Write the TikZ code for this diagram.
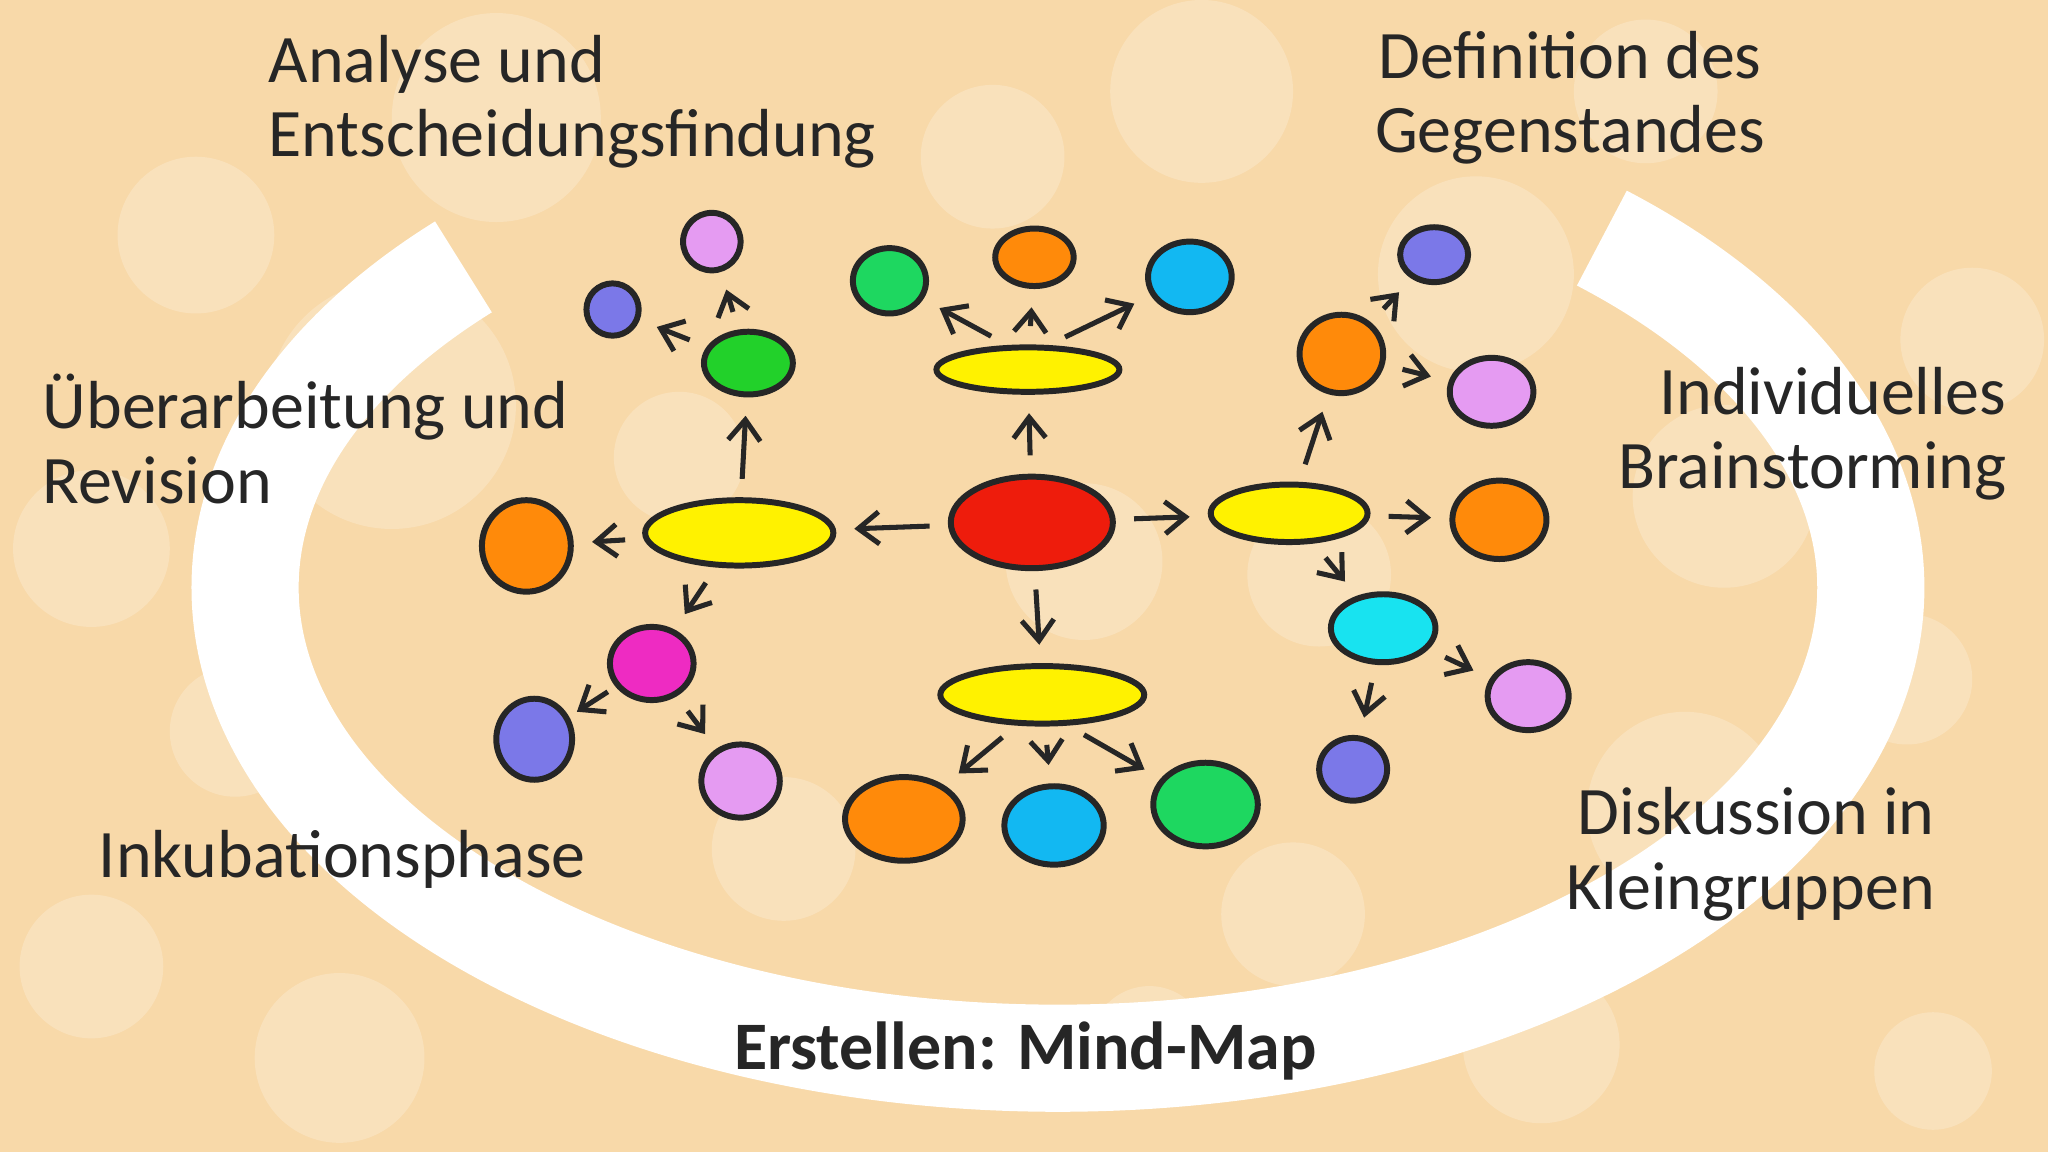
\documentclass[tikz,border=0pt]{standalone}
\usepackage{fontspec}
\setmainfont{Carlito}
\usetikzlibrary{arrows.meta,shapes.geometric}
\definecolor{bg}{HTML}{F8D9A9}
\definecolor{cyel}{HTML}{FFF200}
\definecolor{cred}{HTML}{EE1C0C}
\definecolor{cgreen}{HTML}{1ED760}
\definecolor{clime}{HTML}{22D12A}
\definecolor{corange}{HTML}{FF8A0A}
\definecolor{csky}{HTML}{12B8F2}
\definecolor{clilac}{HTML}{E59BF2}
\definecolor{cviolet}{HTML}{7B78E8}
\definecolor{cmag}{HTML}{EE2BC2}
\definecolor{ccyan}{HTML}{18E3F0}
\begin{document}
\begin{tikzpicture}[x=0.01cm,y=0.01cm,
  arr/.style={-{Straight Barb[length=4.5pt,width=7pt]},line width=1.1pt,black!85,shorten <=4pt,shorten >=4pt},
  bl/.style={ellipse,draw=black!85,line width=1.3pt,inner sep=0pt},
  lab/.style={font=\fontsize{14.8}{16.2}\selectfont,text=black!85,inner sep=0pt}]
\fill[bg] (0,0) rectangle (1568,882);
\useasboundingbox (0,0) rectangle (1568,882);
\foreach \x/\y/\r in {380/90/80,300/310/95,150/180/60,70/420/60,760/120/55,920/70/70,1130/210/75,1320/380/70,1510/260/55,1290/620/75,1460/520/50,1180/800/60,990/700/55,600/650/55,260/810/65,1010/440/55,830/430/60,520/350/50,70/740/55,1480/820/45,1260/70/55,880/800/45,180/560/50}
  \fill[white,opacity=0.22] (\x,{882-\y}) circle (\r);
% white arc
\draw[white,line width=0.82cm] (810,432) ++(137:6.22cm and 3.6cm) arc[start angle=137,end angle=408,x radius=6.22cm,y radius=3.6cm];
\newcommand{\mb}[6]{\node[bl,fill=#6,minimum width=#4*0.02cm,minimum height=#5*0.02cm] (#1) at (#2,{882-#3}) {};}
\mb{c}{790}{400}{62}{35}{cred}
\mb{yt}{787}{283}{70}{17}{cyel}
\mb{yl}{566}{408}{72}{25}{cyel}
\mb{yr}{987}{393}{60}{22}{cyel}
\mb{yb}{798}{532}{78}{22}{cyel}
\mb{t1}{681}{215}{28}{25}{cgreen}
\mb{t2}{792}{197}{30}{22}{corange}
\mb{t3}{911}{212}{32}{27}{csky}
\mb{lg}{573}{278}{34}{24}{clime}
\mb{lp}{545}{185}{22}{22}{clilac}
\mb{lv}{469}{237}{20}{20}{cviolet}
\mb{lo}{403}{418}{34}{35}{corange}
\mb{lm}{499}{508}{32}{28}{cmag}
\mb{lbv}{409}{566}{29}{31}{cviolet}
\mb{lbl}{567}{598}{30}{28}{clilac}
\mb{b1}{692}{627}{45}{32}{corange}
\mb{b2}{807}{632}{38}{30}{csky}
\mb{b3}{923}{616}{40}{32}{cgreen}
\mb{ro}{1027}{271}{32}{30}{corange}
\mb{rv}{1098}{195}{26}{21}{cviolet}
\mb{rl}{1142}{300}{32}{26}{clilac}
\mb{ro2}{1148}{398}{36}{30}{corange}
\mb{rc}{1059}{481}{40}{26}{ccyan}
\mb{rl2}{1170}{533}{31}{26}{clilac}
\mb{rv2}{1036}{589}{26}{24}{cviolet}
% arrows
\draw[arr] (c) -- (yt);
\draw[arr] (c) -- (yl);
\draw[arr] (c) -- (yr);
\draw[arr] (c) -- (yb);
\draw[arr] (yt.130) -- (t1);
\draw[arr] (yt) -- (t2);
\draw[arr] (yt.50) -- (t3);
\draw[arr] (yl) -- (lg);
\draw[arr] (lg) -- (lp);
\draw[arr] (lg) -- (lv);
\draw[arr] (yl) -- (lo);
\draw[arr] (yl) -- (lm);
\draw[arr,shorten <=2pt,shorten >=2pt] (lm) -- (lbv);
\draw[arr] (lm) -- (lbl);
\draw[arr] (yb.230) -- (b1);
\draw[arr] (yb) -- (b2);
\draw[arr] (yb.310) -- (b3);
\draw[arr] (yr) -- (ro);
\draw[arr] (ro) -- (rv);
\draw[arr] (ro) -- (rl);
\draw[arr] (yr) -- (ro2);
\draw[arr] (yr) -- (rc);
\draw[arr] (rc) -- (rl2);
\draw[arr] (rc) -- (rv2);
% labels
\node[lab,anchor=west,align=left] (a1) at (205,{882-78}) {Analyse und\\Entscheidungsfindung};
\node[lab,align=center] (a2) at (1202,{882-75}) {Definition des\\Gegenstandes};
\node[lab,anchor=west,align=left] (a3) at (32,{882-336}) {Überarbeitung und\\Revision};
\node[lab,anchor=east,align=right] (a4) at (1537,{882-332}) {Individuelles\\Brainstorming};
\node[lab,anchor=west] (a5) at (75,{882-658}) {Inkubationsphase};
\node[lab,anchor=east,align=right] (a6) at (1482,{882-654}) {Diskussion in\\Kleingruppen};
\node[lab,font=\fontsize{14.8}{16.2}\selectfont\bfseries] (a7) at (785,{882-805}) {Erstellen: Mind-Map};
\end{tikzpicture}
\end{document}
